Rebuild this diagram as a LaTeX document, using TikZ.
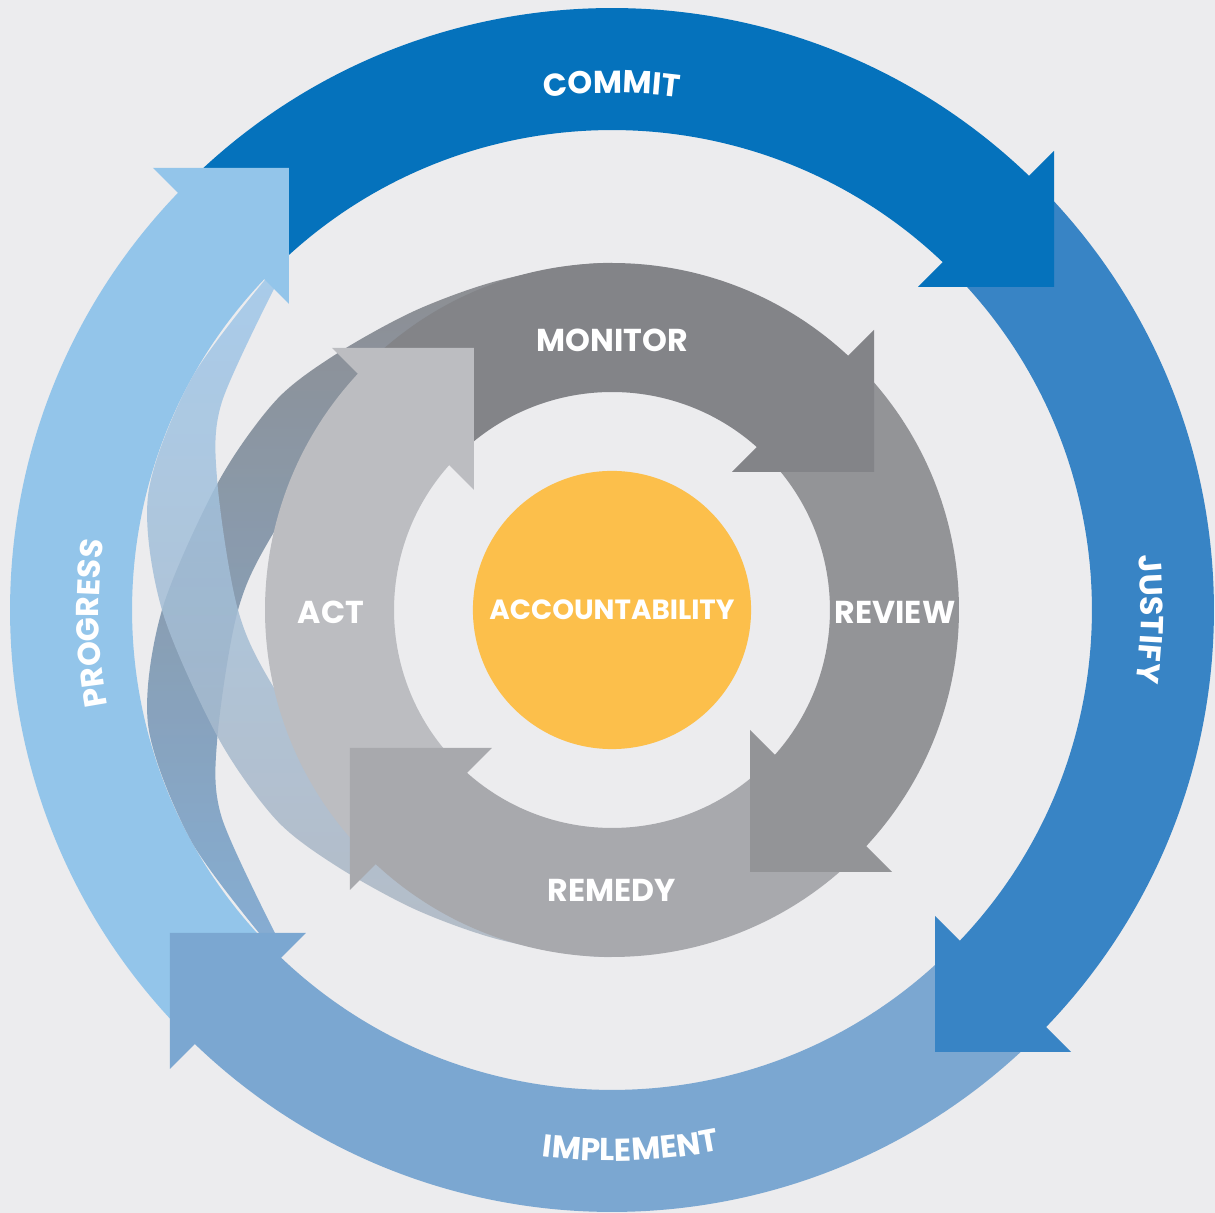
\documentclass[tikz,border=0pt]{standalone}
\usepackage{fontspec}
\setmainfont{Poppins}
\usetikzlibrary{decorations.text}

\definecolor{backcol}{HTML}{ECECEE}
\definecolor{commitcol}{HTML}{0572BC}
\definecolor{justifycol}{HTML}{3884C5}
\definecolor{implementcol}{HTML}{7BA7D1}
\definecolor{progresscol}{HTML}{93C5EA}
\definecolor{monitorcol}{HTML}{838488}
\definecolor{reviewcol}{HTML}{939497}
\definecolor{remedycol}{HTML}{A8A9AD}
\definecolor{actcol}{HTML}{BCBDC1}
\definecolor{corecol}{HTML}{FCBF4B}
\definecolor{swooshtop}{HTML}{9EC7EA}
\definecolor{swooshlow}{HTML}{ABB4C0}

\tikzset{
  ringlabel/.style={text=white, font=\bfseries\fontsize{9}{9}\selectfont, inner sep=0pt},
  corelabel/.style={circle, fill=corecol, minimum size=2.78cm, inner sep=0pt, text=white, font=\bfseries\fontsize{7.9}{9}\selectfont},
  arclabel/.style={decorate, decoration={text along path, text align=center, text color=white, text={|\bfseries\fontsize{9}{9}\selectfont|#1}}}
}

\begin{document}
\begin{tikzpicture}[x=0.01cm, y=0.01cm]
  \useasboundingbox (-612,-603) rectangle (603,610);
  \fill[backcol] (-612,-603) rectangle (603,610);
  \foreach \turn/\col in {0/commitcol, -90/justifycol, 180/implementcol, 90/progresscol}
    \fill[\col, rotate=\turn] (134.5:602) arc[start angle=134.5, end angle=45.1, radius=602]
      -- (45.4:480) arc[start angle=45.4, end angle=134.5, radius=480] -- cycle;
  \shade[top color=monitorcol, bottom color=implementcol, fill opacity=0.9]
    plot[smooth] coordinates {(-135:480) (-151:480) (-166:478) (-180:450) (-198:414) (-212:396) (-223:376) (-237:358) (-252:348) (-270:347) (-290:345)}
    -- plot[smooth] coordinates {(-290:340) (-230:340) (-194:345) (-180:374) (-162:415) (-152:442) (-135:470)} -- cycle;
  \shade[top color=swooshtop, bottom color=swooshlow, fill opacity=0.85]
    plot[smooth] coordinates {(135:480) (151:480) (166:478) (180:450) (198:414) (212:396) (223:376) (237:358) (252:348) (270:347) (290:345)}
    -- plot[smooth] coordinates {(290:340) (230:340) (194:345) (180:374) (162:415) (152:442) (135:470)} -- cycle;
  \foreach \turn/\col in {0/commitcol, -90/justifycol, 180/implementcol, 90/progresscol}
    \fill[\col, rotate=\turn] (442,459) -- (442,323) -- (306,323) -- cycle;
  \foreach \turn/\col in {0/monitorcol, -90/reviewcol, 180/remedycol, 90/actcol}
    \fill[\col, rotate=\turn] (134:347) arc[start angle=134, end angle=46.1, radius=347]
      -- (47.35:218) arc[start angle=47.35, end angle=134, radius=218] -- cycle;
  \foreach \turn/\col in {0/monitorcol, -90/reviewcol, 180/remedycol, 90/actcol}
    \fill[\col, rotate=\turn] (262,280) -- (262,138) -- (120,138) -- cycle;
  \node[corelabel] (core) at (0,0) {ACCOUNTABILITY};
  \node[ringlabel] (monitor) at (0,270) {MONITOR};
  \node[ringlabel] (review) at (283,-2) {REVIEW};
  \node[ringlabel] (remedy) at (0,-280) {REMEDY};
  \node[ringlabel] (act) at (-281,-2) {ACT};
  \path[arclabel=COMMIT] (108:517) arc[start angle=108, end angle=72, radius=517];
  \path[arclabel=JUSTIFY] (19:529) arc[start angle=19, end angle=-21, radius=529];
  \path[arclabel=IMPLEMENT] (256:551) arc[start angle=256, end angle=288, radius=551];
  \path[arclabel=PROGRESS] (201.5:513) arc[start angle=201.5, end angle=161.5, radius=513];
\end{tikzpicture}
\end{document}
